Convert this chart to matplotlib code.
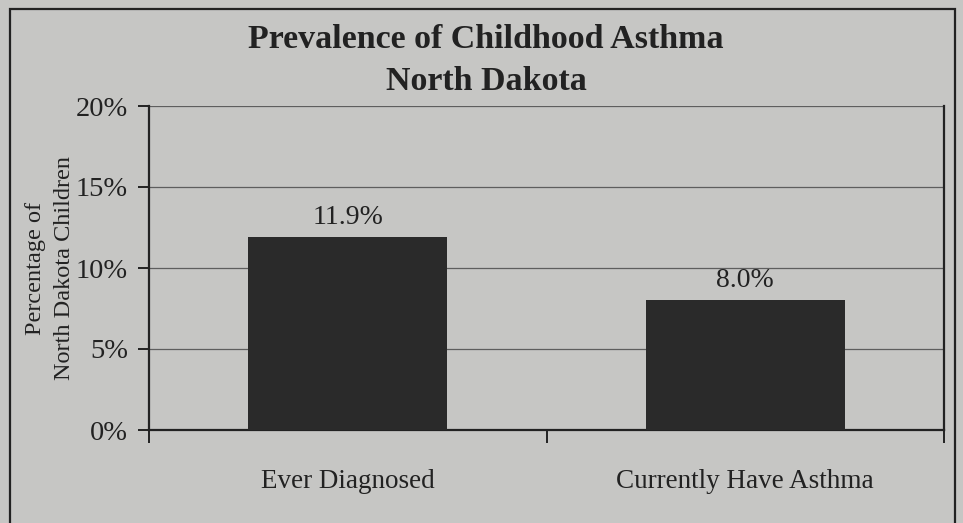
import matplotlib.pyplot as plt
from matplotlib.patches import Rectangle

categories = ["Ever Diagnosed", "Currently Have Asthma"]
values = [11.9, 8.0]
value_labels = ["11.9%", "8.0%"]
y_ticks = [0, 5, 10, 15, 20]
y_tick_labels = ["0%", "5%", "10%", "15%", "20%"]

BG = "#c6c6c4"
INK = "#222222"

plt.rcParams["font.family"] = ["Liberation Serif", "DejaVu Serif"]

fig = plt.figure(figsize=(9.63, 5.23), dpi=100)
fig.patch.set_facecolor(BG)

# outer frame of the scanned chart
fig.patches.append(Rectangle((9.5 / 963, -0.05), 945 / 963, 1 - 8.5 / 523 + 0.05,
                             transform=fig.transFigure, fill=False,
                             edgecolor=INK, linewidth=1.6))

ax = fig.add_axes([149 / 963, 1 - 430 / 523, 795 / 963, 324 / 523])
ax.set_facecolor(BG)

x = [0.5, 1.5]
ax.bar(x, values, width=0.5, color="#2a2a2a", zorder=3)
for xi, v, lab in zip(x, values, value_labels):
    ax.annotate(lab, xy=(xi, v), xytext=(0, 9.5), textcoords="offset points",
                ha="center", va="baseline", fontsize=20, color=INK)

# category names under each bar
for xi, cat in zip(x, categories):
    ax.annotate(cat, xy=(xi, 0), xycoords=("data", "axes fraction"),
                xytext=(0, -41.5), textcoords="offset points",
                ha="center", va="baseline", fontsize=19.5, color=INK)

ax.set_xlim(0, 2)
ax.set_ylim(0, 20)
ax.set_yticks(y_ticks)
ax.set_yticklabels(y_tick_labels, fontsize=20.5, color=INK)
ax.set_xticks([0, 1, 2])
ax.set_xticklabels([])
ax.tick_params(axis="x", direction="out", length=9, width=1.4, color=INK)
ax.tick_params(axis="y", direction="out", length=8, width=1.4, color=INK, pad=7)

ax.grid(axis="y", color="#5e5e5e", linewidth=0.9, zorder=0)
for side in ["left", "bottom", "right"]:
    ax.spines[side].set_color(INK)
    ax.spines[side].set_linewidth(1.6)
ax.spines["top"].set_visible(False)

ax.set_ylabel("Percentage of\nNorth Dakota Children", fontsize=17.5, color=INK,
              linespacing=1.45, labelpad=1)

fig.text(486 / 963, 1 - 48 / 523, "Prevalence of Childhood Asthma", ha="center",
         va="baseline", fontsize=24.5, fontweight="bold", color=INK)
fig.text(486 / 963, 1 - 90 / 523, "North Dakota", ha="center", va="baseline",
         fontsize=24.5, fontweight="bold", color=INK)

fig.savefig("out.png", dpi=100, facecolor=BG)
